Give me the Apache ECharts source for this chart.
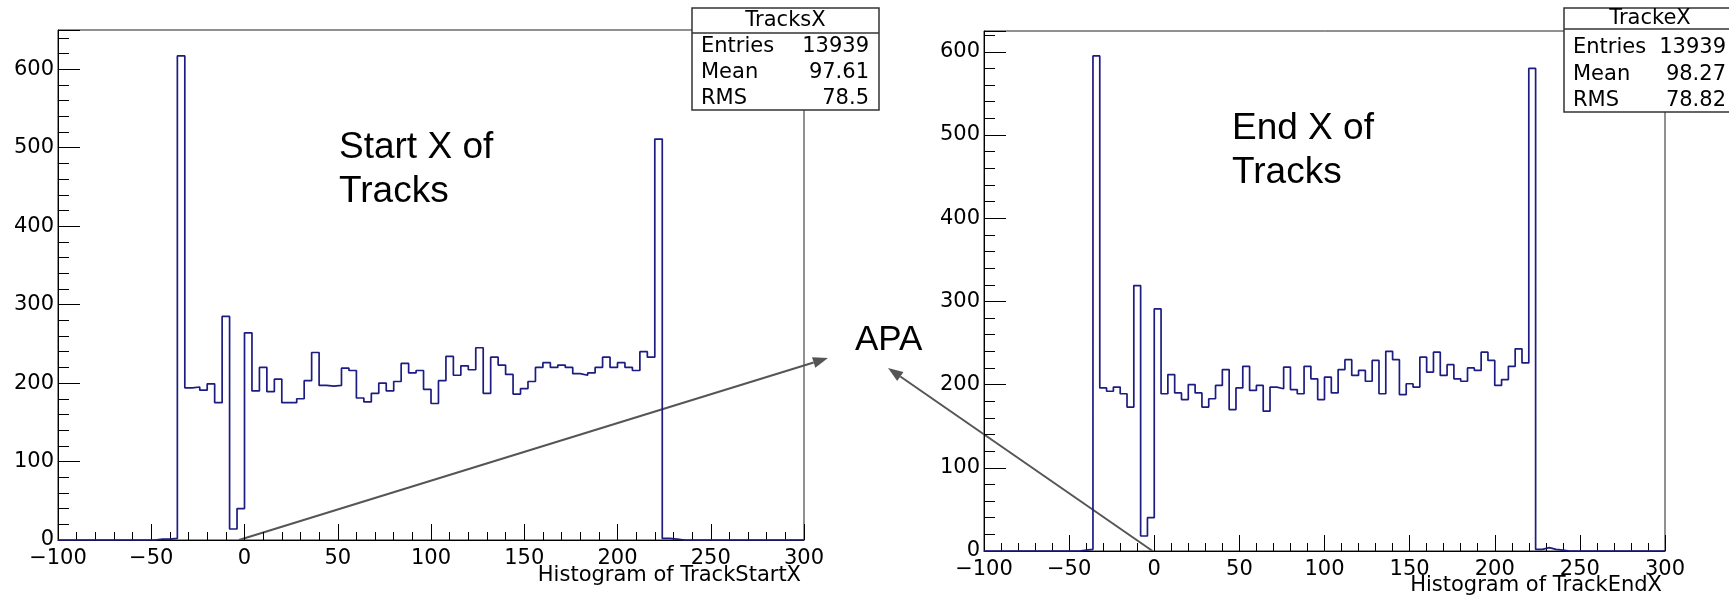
<!DOCTYPE html>
<html>
<head>
<meta charset="utf-8">
<title>TrackStartX / TrackEndX</title>
<script src="https://cdn.jsdelivr.net/npm/echarts@6/dist/echarts.min.js"></script>
<style>
  html, body { margin: 0; padding: 0; background: #fff; }
  #chart { width: 1729px; height: 598px; }
</style>
</head>
<body>
<div id="chart"></div>
<script>
// binning of both histograms (100 bins, -100 .. 300)
const xMin = -100;
const xMax = 300;
const binWidth = 4;

// bin contents of TrackStartX
const startCounts = [
  0, 0, 0, 0, 0, 0, 0, 0, 0, 0,
  0, 0, 0, 1, 1, 2, 617, 194, 195, 191,
  199, 175, 285, 14, 40, 264, 190, 220, 189, 205,
  175, 175, 180, 203, 239, 197, 196, 197, 219, 216,
  181, 176, 187, 200, 190, 202, 225, 213, 216, 192,
  174, 203, 234, 210, 222, 217, 245, 187, 233, 223,
  211, 186, 193, 202, 220, 226, 220, 223, 220, 212,
  210, 213, 220, 233, 220, 226, 220, 216, 240, 233,
  511, 2, 1, 0, 0, 0, 0, 0, 0, 0,
  0, 0, 0, 0, 0, 0, 0, 0, 0, 0
];

// bin contents of TrackEndX
const endCounts = [
  0, 0, 0, 0, 0, 0, 0, 0, 0, 0,
  0, 0, 0, 0, 1, 2, 595, 196, 192, 197,
  189, 173, 319, 18, 40, 291, 189, 212, 190, 182,
  200, 190, 173, 183, 199, 218, 170, 196, 222, 193,
  199, 168, 197, 195, 221, 194, 189, 222, 207, 182,
  209, 190, 218, 230, 211, 217, 204, 229, 189, 240,
  230, 188, 201, 197, 233, 215, 239, 211, 224, 207,
  204, 220, 217, 239, 229, 199, 206, 222, 243, 226,
  580, 2, 4, 2, 1, 0, 0, 0, 0, 0,
  0, 0, 0, 0, 0, 0, 0, 0, 0, 0
];

// stat boxes
const statNames = ['Entries', 'Mean', 'RMS'];
const startStats = ['13939', '97.61', '78.5'];
const endStats = ['13939', '98.27', '78.82'];

const rootFont = '"DejaVu Sans", sans-serif';
const noteFont = '"Liberation Sans", Arial, sans-serif';
const histColor = '#1c1c82';

// bin low edges + closing point for the step outline
function stepData(counts) {
  const pts = counts.map((c, i) => [xMin + i * binWidth, c]);
  pts.push([xMax, counts[counts.length - 1]]);
  return pts;
}

function makeXAxis(gridIndex, name, namePad) {
  return {
    type: 'value',
    gridIndex: gridIndex,
    min: xMin,
    max: xMax,
    interval: 50,
    name: name,
    nameLocation: 'end',
    nameGap: -3,
    nameMoveOverlap: false,
    nameTextStyle: {
      fontFamily: rootFont, fontSize: 21, color: '#000',
      align: 'right', verticalAlign: 'top', padding: [namePad, 0, 0, 0]
    },
    axisLine: { show: true, onZero: false, lineStyle: { color: '#000', width: 1 } },
    axisTick: { show: true, inside: true, length: 16, lineStyle: { color: '#000', width: 1 } },
    minorTick: { show: true, splitNumber: 5, length: 8, lineStyle: { color: '#000', width: 1 } },
    splitLine: { show: false },
    axisLabel: {
      margin: 8, color: '#000', fontFamily: rootFont, fontSize: 21,
      showMinLabel: true, showMaxLabel: true,
      formatter: v => String(v).replace('-', '\u2212')
    }
  };
}

function makeYAxis(gridIndex, max) {
  return {
    type: 'value',
    gridIndex: gridIndex,
    min: 0,
    max: max,
    interval: 100,
    axisLine: { show: true, onZero: false, lineStyle: { color: '#000', width: 1 } },
    axisTick: { show: true, inside: true, length: 22, lineStyle: { color: '#000', width: 1 } },
    minorTick: { show: true, splitNumber: 5, length: 11, lineStyle: { color: '#000', width: 1 } },
    splitLine: { show: false },
    axisLabel: {
      margin: 4, color: '#000', fontFamily: rootFont, fontSize: 21,
      showMinLabel: true, showMaxLabel: false
    }
  };
}

function histSeries(index, counts) {
  return {
    type: 'line',
    xAxisIndex: index,
    yAxisIndex: index,
    data: stepData(counts),
    step: 'end',
    symbol: 'none',
    showSymbol: false,
    clip: false,
    silent: true,
    lineStyle: { color: histColor, width: 1.7 }
  };
}

const chart = echarts.init(document.getElementById('chart'));

chart.setOption({
  animation: false,
  backgroundColor: '#fff',
  grid: [
    { left: 58, top: 30, width: 746, height: 510, show: true, borderColor: '#222', borderWidth: 1,
      backgroundColor: 'transparent', outerBoundsMode: 'none', containLabel: false },
    { left: 984, top: 31, width: 681, height: 520, show: true, borderColor: '#222', borderWidth: 1,
      backgroundColor: 'transparent', outerBoundsMode: 'none', containLabel: false }
  ],
  xAxis: [
    makeXAxis(0, 'Histogram of TrackStartX', 25),
    makeXAxis(1, 'Histogram of TrackEndX', 24)
  ],
  yAxis: [
    makeYAxis(0, 650),
    makeYAxis(1, 625)
  ],
  series: [
    histSeries(0, startCounts),
    histSeries(1, endCounts)
  ]
});

// stat box in the ROOT style
function statsBox(x, y, w, h, titleH, title, values, rowY, titleY, valueRight) {
  const children = [
    { type: 'rect', shape: { x: x, y: y, width: w, height: h },
      style: { fill: '#fff', stroke: '#333', lineWidth: 1.5 } },
    { type: 'line', shape: { x1: x, y1: y + titleH, x2: x + w, y2: y + titleH },
      style: { stroke: '#333', lineWidth: 1.5 } },
    { type: 'text', x: x + w / 2, y: titleY,
      style: { text: title, font: '21px ' + rootFont, fill: '#000', align: 'center', verticalAlign: 'middle' } }
  ];
  statNames.forEach((name, i) => {
    children.push({ type: 'text', x: x + 9, y: rowY[i],
      style: { text: name, font: '21px ' + rootFont, fill: '#000', align: 'left', verticalAlign: 'middle' } });
    children.push({ type: 'text', x: valueRight, y: rowY[i],
      style: { text: values[i], font: '21px ' + rootFont, fill: '#000', align: 'right', verticalAlign: 'middle' } });
  });
  return { type: 'group', z: 100, children: children };
}

function arrow(from, to) {
  const dx = to[0] - from[0];
  const dy = to[1] - from[1];
  const len = Math.hypot(dx, dy);
  const ux = dx / len, uy = dy / len;
  const headLen = 15, headW = 5.5;
  const bx = to[0] - ux * headLen, by = to[1] - uy * headLen;
  return {
    type: 'group', z: 90,
    children: [
      { type: 'line', shape: { x1: from[0], y1: from[1], x2: bx, y2: by },
        style: { stroke: '#555', lineWidth: 2 } },
      { type: 'polygon',
        shape: { points: [to, [bx - uy * headW, by + ux * headW], [bx + uy * headW, by - ux * headW]] },
        style: { fill: '#555' } }
    ]
  };
}

// arrows start on the x axes near x = 0
const startFoot = chart.convertToPixel({ gridIndex: 0 }, [-3, 0]);
const endFoot = chart.convertToPixel({ gridIndex: 1 }, [-1, 0]);

chart.setOption({
  graphic: [
    statsBox(692, 8, 187, 102, 25, 'TracksX', startStats, [47, 73, 99], 21, 869),
    statsBox(1564, 8, 172, 104, 21, 'TrackeX', endStats, [48, 75, 101], 19, 1726),
    { type: 'text', z: 95, x: 339, y: 126,
      style: { text: 'Start X of\nTracks', font: '37px ' + noteFont, fill: '#000', lineHeight: 44,
        align: 'left', verticalAlign: 'top' } },
    { type: 'text', z: 95, x: 1232, y: 107,
      style: { text: 'End X of\nTracks', font: '37px ' + noteFont, fill: '#000', lineHeight: 44,
        align: 'left', verticalAlign: 'top' } },
    { type: 'text', z: 95, x: 855, y: 340,
      style: { text: 'APA', font: '35px ' + noteFont, fill: '#000', align: 'left', verticalAlign: 'middle' } },
    arrow(startFoot, [828, 358]),
    arrow(endFoot, [888, 368])
  ]
});

window.addEventListener('resize', () => chart.resize());
</script>
</body>
</html>
